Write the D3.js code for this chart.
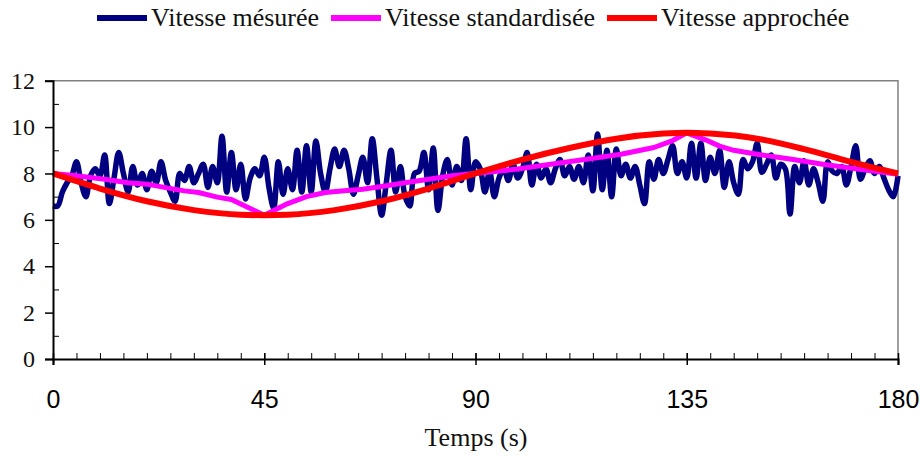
<!DOCTYPE html>
<html>
<head>
<meta charset="utf-8">
<script src="https://cdn.jsdelivr.net/npm/d3@7/dist/d3.min.js"></script>
<style>
  html, body { margin: 0; padding: 0; background: #fff; }
  svg { display: block; }
</style>
</head>
<body>
<svg id="chart" width="920" height="457"></svg>
<script>
// ---------- DATA ----------
const seriesNames = ["Vitesse mésurée", "Vitesse standardisée", "Vitesse approchée"];
const seriesColors = ["#000080", "#FF00FF", "#FF0000"];

// measured speed, one value per second, t = 0 .. 180
const measured = [
  6.6, 6.6, 7.2, 7.6, 7.9, 8.5, 7.6, 7.0, 7.9, 8.2,
  7.9, 8.8, 6.7, 7.8, 8.9, 8.0, 7.2, 8.3, 7.5, 8.0,
  7.3, 8.1, 7.6, 8.5, 7.7, 7.2, 6.8, 8.0, 7.7, 8.3,
  7.6, 8.0, 8.4, 7.4, 8.3, 7.6, 9.6, 7.2, 8.9, 7.3,
  8.4, 6.9, 7.8, 8.2, 7.9, 8.7, 7.4, 6.5, 8.5, 7.1,
  8.2, 7.3, 9.0, 7.2, 9.2, 7.2, 9.4, 8.0, 7.2, 8.2,
  9.05, 8.3, 9.0, 8.2, 7.1, 7.9, 8.7, 7.6, 9.5, 7.8,
  6.2, 7.6, 9.0, 7.2, 8.3, 7.0, 6.6, 8.0, 8.1, 8.9,
  7.3, 9.1, 6.4, 7.9, 8.6, 7.5, 8.3, 7.7, 9.5, 7.3,
  8.5, 8.2, 7.2, 8.1, 7.0, 7.8, 8.2, 7.7, 8.4, 7.8,
  8.2, 8.9, 7.5, 8.4, 7.8, 8.2, 7.6, 8.2, 8.6, 7.9,
  8.3, 7.75, 8.3, 7.6, 8.8, 7.25, 9.7, 7.3, 9.0, 7.0,
  9.05, 7.9, 8.4, 7.8, 8.3, 7.5, 6.7, 8.5, 7.75, 8.6,
  8.0, 8.6, 9.2, 8.0, 8.5, 7.8, 9.3, 7.8, 9.3, 7.7,
  8.7, 8.0, 9.0, 7.4, 8.5, 7.6, 7.1, 8.6, 8.2, 8.5,
  9.3, 8.05, 8.4, 8.8, 7.8, 8.4, 8.2, 6.25, 8.3, 7.6,
  8.55, 7.5, 8.2, 7.6, 6.8, 8.5, 8.1, 8.0, 8.3, 7.5,
  8.3, 9.2, 7.75, 8.2, 8.55, 8.0, 8.3, 7.8, 7.3, 7.0,
  7.9
];
const measuredTimes = d3.range(0, measured.length);

// standardised speed
const stdTimes = [0, 5, 8, 11, 16, 20, 24, 28, 31, 35, 38, 45, 50, 54, 58, 62, 66, 71, 75, 80,
  85, 92, 99, 106, 114, 121, 128, 132, 135, 139, 142, 145, 150, 157, 164, 171, 180];
const stdValues = [8.0, 7.9, 7.83, 7.75, 7.6, 7.54, 7.39, 7.25, 7.18, 6.98, 6.88, 6.2, 6.7, 7.0, 7.18, 7.25, 7.32, 7.47, 7.6, 7.75,
  7.9, 8.04, 8.19, 8.4, 8.62, 8.83, 9.12, 9.42, 9.75, 9.45, 9.18, 9.0, 8.83, 8.62, 8.4, 8.2, 7.97];

// approximated speed
const approxTimes = [0, 10, 20, 30, 40, 45, 50, 60, 70, 80, 90, 100, 110, 120, 130, 135, 140, 150, 160, 170, 180];
const approxValues = [8.0, 7.35, 6.8, 6.42, 6.22, 6.2, 6.22, 6.42, 6.8, 7.35, 8.0, 8.6, 9.1, 9.5, 9.72, 9.76, 9.72, 9.5, 9.05, 8.5, 8.0];

const xMajorTicks = [0, 45, 90, 135, 180];
const xMinorTicks = d3.range(0, 181, 5);
const yMajorTicks = [0, 2, 4, 6, 8, 10, 12];
const yMinorTicks = [1, 3, 5, 7, 9, 11];
const xTitle = "Temps (s)";

// ---------- LAYOUT ----------
const svg = d3.select("#chart");
const L = 53, R = 898, T = 80.7, B = 359;
const x = d3.scaleLinear().domain([0, 180]).range([L, R]);
const y = d3.scaleLinear().domain([0, 12]).range([B, T]);
const serif = "'Liberation Serif', 'Times New Roman', serif";
const sans = "'Liberation Sans', Arial, sans-serif";

// frame (top & right grey)
svg.append("path")
  .attr("d", `M${L},${T}H${R}V${B}`)
  .attr("fill", "none").attr("stroke", "#808080").attr("stroke-width", 1.5);

// series
const plot = svg.append("g");
plot.append("path")
  .datum(measuredTimes.map((t, i) => [t, measured[i]]))
  .attr("d", d3.line().x(d => x(d[0])).y(d => y(d[1])).curve(d3.curveCatmullRom.alpha(0.5)))
  .attr("fill", "none").attr("stroke", seriesColors[0]).attr("stroke-width", 5.5)
  .attr("stroke-linejoin", "round");
plot.append("path")
  .datum(stdTimes.map((t, i) => [t, stdValues[i]]))
  .attr("d", d3.line().x(d => x(d[0])).y(d => y(d[1])).curve(d3.curveLinear))
  .attr("fill", "none").attr("stroke", seriesColors[1]).attr("stroke-width", 5)
  .attr("stroke-linejoin", "round");
plot.append("path")
  .datum(approxTimes.map((t, i) => [t, approxValues[i]]))
  .attr("d", d3.line().x(d => x(d[0])).y(d => y(d[1])).curve(d3.curveMonotoneX))
  .attr("fill", "none").attr("stroke", seriesColors[2]).attr("stroke-width", 6)
  .attr("stroke-linejoin", "round");

// y axis: major ticks outside with labels, minor inside
const yAxis = svg.append("g").attr("transform", `translate(${L},0)`)
  .call(d3.axisLeft(y).tickValues(yMajorTicks).tickSize(8).tickPadding(10).tickFormat(d3.format("d")));
yAxis.select(".domain").attr("stroke", "#000").attr("stroke-width", 2);
yAxis.selectAll(".tick line").attr("stroke", "#000").attr("stroke-width", 1.5);
yAxis.selectAll(".tick text").attr("font-family", serif).attr("font-size", 24).attr("fill", "#111");
const yMinor = svg.append("g").attr("transform", `translate(${L},0)`)
  .call(d3.axisRight(y).tickValues(yMinorTicks).tickSize(6).tickFormat(""));
yMinor.select(".domain").remove();
yMinor.selectAll(".tick line").attr("stroke", "#000").attr("stroke-width", 1);

// x axis
const xMinor = svg.append("g").attr("transform", `translate(0,${B})`)
  .call(d3.axisTop(x).tickValues(xMinorTicks).tickSize(6).tickFormat(""));
xMinor.select(".domain").remove();
xMinor.selectAll(".tick line").attr("stroke", "#000").attr("stroke-width", 1);
const xAxis = svg.append("g").attr("transform", `translate(0,${B})`)
  .call(d3.axisBottom(x).tickValues(xMajorTicks).tickSize(6).tickPadding(25).tickFormat(d3.format("d")));
xAxis.select(".domain").attr("stroke", "#000").attr("stroke-width", 2);
xAxis.selectAll(".tick line").attr("stroke", "#000").attr("stroke-width", 1.5).attr("y1", -6);
xAxis.selectAll(".tick text").attr("font-family", sans).attr("font-size", 25).attr("fill", "#000");

svg.append("text")
  .attr("x", 476).attr("y", 446)
  .attr("text-anchor", "middle")
  .attr("font-family", serif).attr("font-size", 26).attr("fill", "#111")
  .text(xTitle);

// legend
const legendX = [97, 331, 607];
const legend = svg.append("g");
seriesNames.forEach((name, i) => {
  const g = legend.append("g").attr("transform", `translate(${legendX[i]},18)`);
  g.append("line").attr("x1", 0).attr("x2", 50).attr("y1", 0).attr("y2", 0)
    .attr("stroke", seriesColors[i]).attr("stroke-width", 6);
  g.append("text").attr("x", 54).attr("y", 8)
    .attr("font-family", serif).attr("font-size", 26).attr("fill", "#111")
    .text(name);
});
</script>
</body>
</html>
